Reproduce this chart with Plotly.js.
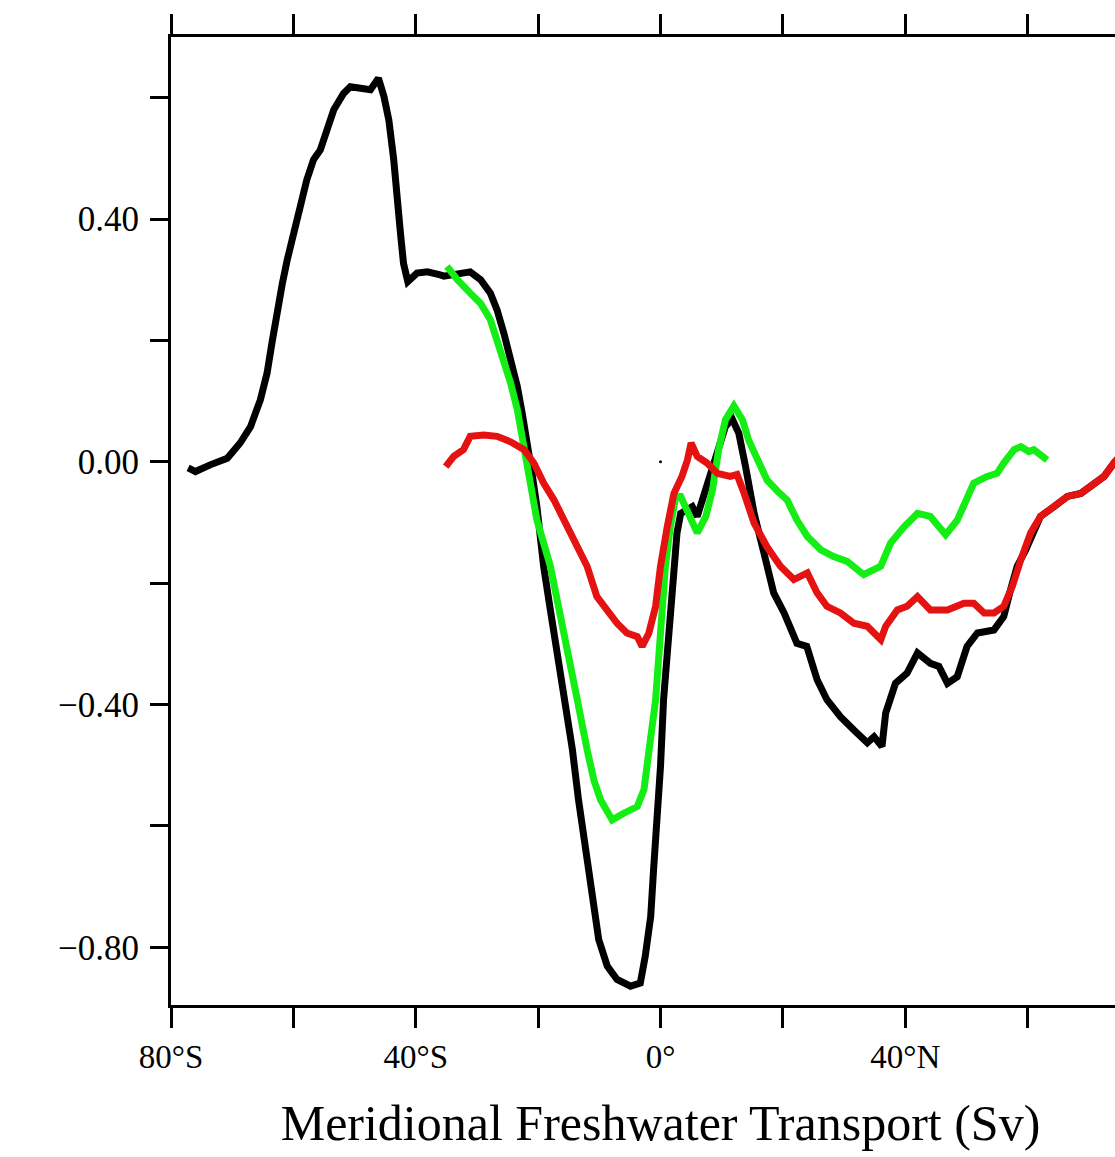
<!DOCTYPE html>
<html>
<head>
<meta charset="utf-8">
<script src="https://cdn.plot.ly/plotly-3.0.1.min.js"></script>
<style>
html, body { margin: 0; padding: 0; overflow: hidden; background: #fff; }
#chart { width: 1200px; height: 1157px; }
</style>
</head>
<body>
<div id="chart"></div>
<script>
// Latitude (deg, negative = south) and transport (Sv)
const blackLat = [-77.2,-76.0,-73.6,-70.8,-68.7,-67.0,-65.4,-64.3,-63.5,-62.7,-61.8,-61.0,-59.9,-58.9,-57.8,-56.7,-55.6,-54.5,-53.4,-51.8,-50.7,-47.4,-46.1,-45.2,-44.4,-43.6,-43.1,-42.5,-42.0,-41.3,-39.8,-38.1,-36.0,-35.4,-31.1,-29.4,-27.8,-26.7,-25.6,-24.5,-23.4,-22.6,-21.8,-21.0,-20.2,-19.1,-18.0,-16.9,-15.8,-14.4,-13.4,-12.3,-11.2,-10.1,-8.7,-7.1,-4.9,-3.3,-2.5,-1.6,-1.1,-0.5,0.0,0.5,1.4,2.2,2.7,3.3,5.2,6.0,7.6,9.3,10.6,11.7,12.8,13.9,15.3,16.9,18.5,20.2,22.3,23.9,25.6,27.2,29.4,31.6,33.8,34.9,36.2,36.8,38.4,40.3,42.0,44.1,45.5,46.9,48.5,50.1,51.8,54.5,56.1,57.2,58.3,59.7,61.0,62.1,64.3,66.5,68.7,70.8,72.5,74.1,76.0];
const blackVal = [-0.010,-0.016,-0.005,0.006,0.031,0.058,0.102,0.146,0.196,0.250,0.294,0.333,0.377,0.426,0.465,0.498,0.514,0.547,0.580,0.607,0.618,0.613,0.632,0.602,0.563,0.498,0.432,0.377,0.327,0.297,0.311,0.313,0.308,0.306,0.313,0.300,0.278,0.250,0.212,0.168,0.124,0.080,0.036,-0.019,-0.074,-0.172,-0.244,-0.310,-0.392,-0.474,-0.557,-0.639,-0.722,-0.787,-0.831,-0.853,-0.864,-0.859,-0.815,-0.749,-0.667,-0.584,-0.502,-0.392,-0.282,-0.172,-0.117,-0.085,-0.074,-0.090,-0.035,0.020,0.058,0.071,0.047,-0.008,-0.085,-0.150,-0.216,-0.249,-0.299,-0.304,-0.359,-0.392,-0.420,-0.442,-0.463,-0.453,-0.469,-0.414,-0.365,-0.348,-0.315,-0.332,-0.337,-0.365,-0.354,-0.304,-0.282,-0.277,-0.255,-0.211,-0.172,-0.145,-0.112,-0.090,-0.074,-0.057,-0.052,-0.035,-0.024,-0.002,0.020];

const redLat = [-35.1,-33.8,-32.2,-31.1,-28.9,-26.7,-24.5,-22.3,-20.7,-19.1,-17.4,-15.8,-14.2,-13.6,-12.0,-10.4,-8.7,-7.1,-5.5,-3.8,-3.0,-1.9,-0.8,0.0,1.1,2.2,3.5,4.4,5.0,6.0,7.6,9.3,11.4,12.5,13.6,15.3,17.4,19.6,21.8,24.0,25.6,27.2,29.4,31.6,33.8,36.0,36.8,38.7,40.3,42.0,44.1,46.9,49.6,51.2,52.9,54.5,56.1,57.5,58.9,60.5,62.1,64.3,66.5,68.7,70.8,72.5,74.1,76.0];
const redVal = [-0.008,0.009,0.020,0.042,0.044,0.042,0.033,0.020,-0.002,-0.035,-0.063,-0.096,-0.123,-0.140,-0.172,-0.222,-0.244,-0.266,-0.282,-0.288,-0.304,-0.282,-0.238,-0.172,-0.107,-0.052,-0.024,0.003,0.031,0.009,-0.002,-0.019,-0.024,-0.021,-0.050,-0.101,-0.140,-0.172,-0.194,-0.183,-0.216,-0.238,-0.249,-0.266,-0.271,-0.293,-0.271,-0.244,-0.238,-0.222,-0.244,-0.244,-0.233,-0.233,-0.249,-0.249,-0.238,-0.205,-0.161,-0.117,-0.090,-0.074,-0.057,-0.052,-0.035,-0.024,-0.002,0.020];

const greenLat = [-34.9,-33.2,-31.1,-29.4,-27.8,-26.7,-25.6,-24.5,-23.4,-22.6,-21.8,-21.0,-20.2,-18.0,-16.3,-14.7,-13.6,-12.0,-10.9,-9.8,-7.9,-6.0,-3.8,-2.7,-2.2,-1.4,-0.8,0.0,0.8,1.6,2.5,3.3,4.6,6.0,7.4,8.5,9.5,10.6,12.0,13.4,14.4,15.8,17.4,19.1,20.7,22.3,24.0,26.2,28.3,30.5,33.2,36.0,37.6,39.8,42.0,44.1,46.6,48.5,50.1,51.2,53.4,55.0,56.1,57.8,58.9,60.2,61.0,63.2];
const greenVal = [0.322,0.300,0.278,0.261,0.234,0.201,0.168,0.130,0.086,0.036,-0.008,-0.052,-0.096,-0.172,-0.255,-0.326,-0.392,-0.474,-0.524,-0.557,-0.590,-0.579,-0.568,-0.540,-0.502,-0.447,-0.392,-0.282,-0.172,-0.107,-0.057,-0.057,-0.085,-0.117,-0.090,-0.046,0.020,0.069,0.092,0.069,0.036,0.003,-0.030,-0.048,-0.063,-0.096,-0.123,-0.145,-0.156,-0.164,-0.186,-0.172,-0.134,-0.107,-0.085,-0.090,-0.120,-0.096,-0.063,-0.035,-0.024,-0.019,-0.002,0.020,0.025,0.017,0.020,0.003];

const originLat = [0];
const originVal = [0];

const xTickVals = [-80,-60,-40,-20,0,20,40,60,80];
const xTickText = ["80°S","","40°S","","0°","","40°N","",""];
const yTickVals = [-0.8,-0.6,-0.4,-0.2,0,0.2,0.4,0.6];
const yTickText = ["\u22120.80","","\u22120.40","","0.00","","0.40",""];
const xTitle = "Meridional Freshwater Transport (Sv)";

const font = "Liberation Serif, Times New Roman, serif";

const traces = [
  {x: blackLat, y: blackVal, mode: "lines", line: {color: "#000000", width: 7}, name: "black"},
  {x: greenLat, y: greenVal, mode: "lines", line: {color: "#14ee14", width: 7}, name: "green"},
  {x: redLat, y: redVal, mode: "lines", line: {color: "#e51212", width: 7}, name: "red"},
  {x: originLat, y: originVal, mode: "markers", marker: {color: "#000", size: 3}, name: "origin"}
];

const layout = {
  width: 1200, height: 1157,
  margin: {l: 171, r: 50, t: 37, b: 152},
  paper_bgcolor: "#fff", plot_bgcolor: "#fff",
  showlegend: false,
  font: {family: font, color: "#000"},
  xaxis: {
    range: [-80, 80], tickmode: "array", tickvals: xTickVals, ticktext: xTickText,
    showgrid: false, zeroline: false, showline: true, linecolor: "#000", linewidth: 3,
    mirror: "ticks", ticks: "outside", ticklen: 20, tickwidth: 3, tickcolor: "#000",
    tickfont: {family: font, size: 33, color: "#000"},
    title: {text: xTitle, font: {family: font, size: 50, color: "#000"}, standoff: 32}
  },
  yaxis: {
    range: [-0.895, 0.7], tickmode: "array", tickvals: yTickVals, ticktext: yTickText,
    showgrid: false, zeroline: false, showline: true, linecolor: "#000", linewidth: 3,
    mirror: "ticks", ticks: "outside", ticklen: 18, tickwidth: 3, tickcolor: "#000",
    tickfont: {family: font, size: 35, color: "#000"}, ticklabelstandoff: 4
  }
};

Plotly.newPlot("chart", traces, layout, {staticPlot: true, displayModeBar: false});
</script>
</body>
</html>
